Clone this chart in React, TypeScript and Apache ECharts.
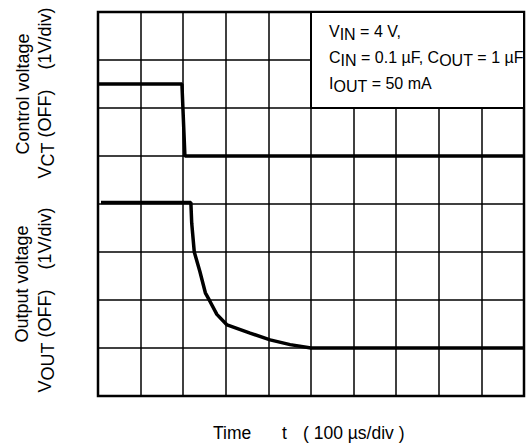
import React, { useEffect, useRef } from "react";
import * as echarts from "echarts";

// Axis ranges in divisions
const xRange = [0, 10];
const yRange = [0, 8];

// Control voltage VCT(OFF) trace, [time div, voltage div]
const controlTrace: [number, number][] = [
  [0, 6.5],
  [1.97, 6.5],
  [2.04, 5.0],
  [10, 5.0],
];

// Output voltage VOUT(OFF) trace
const outputTrace: [number, number][] = [
  [0.07, 4.03],
  [2.18, 4.03],
  [2.2, 3.6],
  [2.26, 3.0],
  [2.39, 2.6],
  [2.52, 2.15],
  [2.63, 1.97],
  [2.79, 1.7],
  [3.03, 1.48],
  [3.57, 1.31],
  [4.04, 1.17],
  [4.51, 1.07],
  [5.0, 1.0],
  [10, 1.0],
];

// Condition box corners in divisions
const boxX = [5, 10];
const boxY = [6, 8];

const conditionLines = [
  "{n|V}{s|IN}{n| = 4 V,}",
  "{n|C}{s|IN}{n| = 0.1 µF, C}{s|OUT}{n| = 1 µF}",
  "{n|I}{s|OUT}{n| = 50 mA}",
];

const FONT = '"Liberation Sans", Arial, Helvetica, sans-serif';

export default function App() {
  const ref = useRef<HTMLDivElement>(null);
  useEffect(() => {
    if (!ref.current) return;
    const chart = echarts.init(ref.current, undefined, { renderer: "svg" });
    const rich16 = {
      n: { fontSize: 16, fontFamily: FONT, color: "#000", lineHeight: 18 },
      s: { fontSize: 16, fontFamily: FONT, color: "#000", lineHeight: 18, padding: [6, 0, 0, 0] },
    };
    const rich18 = {
      n: { fontSize: 18, fontFamily: FONT, color: "#000", lineHeight: 20 },
      s: { fontSize: 18, fontFamily: FONT, color: "#000", lineHeight: 20, padding: [6, 0, 0, 0] },
    };
    const rotText = (x: number, y: number, text: string) => ({
      type: "text",
      x,
      y,
      z: 100,
      rotation: Math.PI / 2,
      style: {
        text,
        rich: rich18,
        fill: "#000",
        font: `18px ${FONT}`,
        align: "center",
        verticalAlign: "middle",
        textAlign: "center",
        textVerticalAlign: "middle",
      },
    });
    const plainText = (x: number, y: number, text: string, size = 17.5) => ({
      type: "text",
      x,
      y,
      z: 100,
      style: {
        text,
        fill: "#000",
        font: `${size}px ${FONT}`,
        align: "left",
        verticalAlign: "middle",
        textAlign: "left",
        textVerticalAlign: "middle",
      },
    });
    const lineText = (x: number, y: number, text: string) => ({
      type: "text",
      x,
      y,
      z: 100,
      style: {
        text,
        rich: rich16,
        fill: "#000",
        font: `16px ${FONT}`,
        align: "left",
        verticalAlign: "middle",
        textAlign: "left",
        textVerticalAlign: "middle",
      },
    });

    chart.setOption({
      animation: false,
      backgroundColor: "#fff",
      grid: {
        left: 98,
        top: 12,
        right: 5,
        bottom: 52,
        show: true,
        borderColor: "#000",
        borderWidth: 2.5,
        backgroundColor: "transparent",
      },
      xAxis: {
        type: "value",
        min: xRange[0],
        max: xRange[1],
        interval: 1,
        axisLine: { show: false },
        axisTick: { show: false },
        axisLabel: { show: false },
        splitLine: { show: true, lineStyle: { color: "#000", width: 1.5 } },
      },
      yAxis: {
        type: "value",
        min: yRange[0],
        max: yRange[1],
        interval: 1,
        axisLine: { show: false },
        axisTick: { show: false },
        axisLabel: { show: false },
        splitLine: { show: true, lineStyle: { color: "#000", width: 1.5 } },
      },
      series: [
        {
          name: "box",
          type: "line",
          data: [],
          markArea: {
            silent: true,
            itemStyle: { color: "#fff", borderColor: "#000", borderWidth: 2, opacity: 1 },
            data: [[{ xAxis: boxX[0], yAxis: boxY[0] }, { xAxis: boxX[1], yAxis: boxY[1] }]],
          },
        },
        {
          name: "VCT(OFF)",
          type: "line",
          data: controlTrace,
          showSymbol: false,
          lineStyle: { color: "#000", width: 3.5 },
          z: 5,
        },
        {
          name: "VOUT(OFF)",
          type: "line",
          data: outputTrace,
          showSymbol: false,
          lineStyle: { color: "#000", width: 3.5 },
          z: 5,
        },
      ],
      graphic: [
        rotText(23, 94, "{n|Control voltage}"),
        rotText(45, 93, "{n|V}{s|CT}{n| (OFF)    (1V/div)}"),
        rotText(22, 284, "{n|Output voltage}"),
        rotText(45, 300, "{n|V}{s|OUT}{n| (OFF)    (1V/div)}"),
        plainText(213, 433, "Time"),
        plainText(282, 433, "t"),
        plainText(303, 433, "( 100 µs/div )"),
        lineText(329, 31, conditionLines[0]),
        lineText(329, 57, conditionLines[1]),
        lineText(329, 83, conditionLines[2]),
      ],
    });
    return () => chart.dispose();
  }, []);
  return <div ref={ref} style={{ width: 529, height: 448, position: "absolute", left: 0, top: 0 }} />;
}
